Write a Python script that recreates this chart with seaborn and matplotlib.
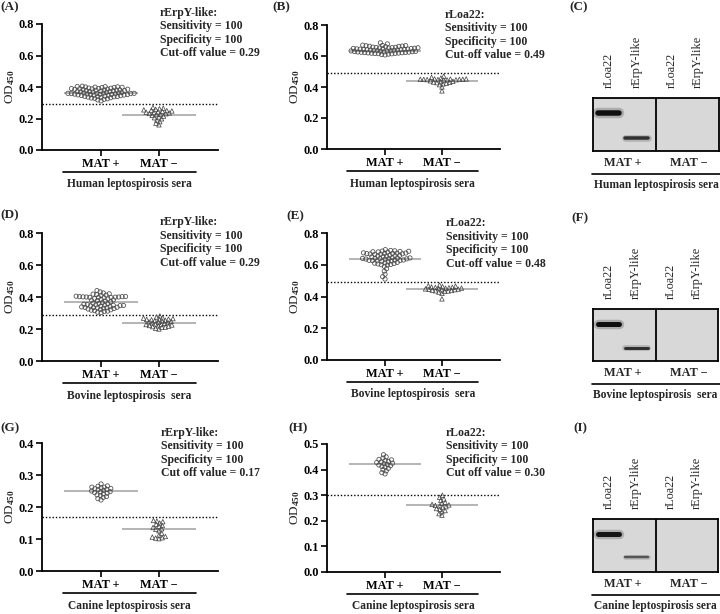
import numpy as np
import pandas as pd
import matplotlib
matplotlib.use("Agg")
import matplotlib.pyplot as plt
import seaborn as sns
from matplotlib.markers import MarkerStyle
from matplotlib.transforms import blended_transform_factory, Affine2D

# ---------------- data ----------------
groups = ["MAT +", "MAT \u2212"]

human_erpy_pos = [0.405, 0.402, 0.400, 0.398, 0.401, 0.396, 0.399, 0.403, 0.397,
                  0.392, 0.389, 0.391, 0.387, 0.388, 0.393, 0.385, 0.390, 0.386, 0.384,
                  0.381, 0.378, 0.379, 0.376, 0.380, 0.377, 0.375, 0.382,
                  0.372, 0.370, 0.368, 0.371, 0.366, 0.369, 0.365,
                  0.362, 0.360, 0.358, 0.361, 0.357, 0.359, 0.356, 0.363, 0.355, 0.354, 0.360, 0.358,
                  0.352, 0.350, 0.348, 0.351, 0.347, 0.349, 0.346, 0.345, 0.353,
                  0.342, 0.340, 0.338, 0.341, 0.336, 0.339,
                  0.332, 0.330, 0.328, 0.334, 0.322, 0.318, 0.325, 0.312]
human_erpy_neg = [0.270, 0.265, 0.262, 0.258, 0.255, 0.252, 0.250, 0.248, 0.245, 0.243,
                  0.240, 0.238, 0.235, 0.232, 0.230, 0.228, 0.225, 0.220, 0.215, 0.210,
                  0.205, 0.198, 0.190, 0.180, 0.170, 0.160]
human_erpy_means = [0.36, 0.225]

human_loa_pos = [0.685, 0.678,
                 0.670, 0.668, 0.666, 0.664, 0.662, 0.660, 0.667, 0.663,
                 0.656, 0.654, 0.652, 0.650, 0.648, 0.646, 0.655, 0.651, 0.649, 0.653, 0.647, 0.657,
                 0.644, 0.642, 0.640, 0.638, 0.636, 0.634, 0.643, 0.641, 0.639, 0.637, 0.635, 0.645,
                 0.632, 0.630, 0.628, 0.626, 0.624, 0.622, 0.631, 0.629, 0.627, 0.625, 0.623, 0.633,
                 0.620, 0.618, 0.616, 0.614, 0.621, 0.619, 0.617, 0.615,
                 0.612, 0.610, 0.607]
human_loa_neg = [0.470, 0.462, 0.458, 0.452, 0.450, 0.451, 0.449, 0.448, 0.450, 0.447,
                 0.452, 0.446, 0.449, 0.445, 0.448, 0.440, 0.437, 0.435, 0.432, 0.430,
                 0.428, 0.425, 0.420, 0.415, 0.400, 0.375]
human_loa_means = [0.635, 0.44]

bovine_erpy_pos = [0.440, 0.432, 0.425, 0.420, 0.418, 0.415, 0.412, 0.410,
                   0.405, 0.402, 0.400, 0.398, 0.401, 0.399, 0.403, 0.397, 0.400, 0.396, 0.402, 0.398,
                   0.390, 0.388, 0.385, 0.382, 0.380, 0.378, 0.375,
                   0.370, 0.365, 0.362, 0.360, 0.358, 0.355,
                   0.352, 0.350, 0.348, 0.345, 0.347, 0.343, 0.349, 0.346,
                   0.340, 0.338, 0.335, 0.333, 0.336, 0.332, 0.330, 0.334,
                   0.328, 0.325, 0.322, 0.320, 0.318, 0.315, 0.312, 0.310, 0.305, 0.302]
bovine_erpy_neg = [0.282, 0.275, 0.270, 0.268, 0.265, 0.262, 0.262, 0.260, 0.258, 0.255,
                   0.252, 0.250, 0.248, 0.245, 0.242, 0.240, 0.238, 0.235, 0.232, 0.230,
                   0.228, 0.225, 0.222, 0.220, 0.218, 0.215, 0.212, 0.210, 0.205, 0.200]
bovine_erpy_means = [0.37, 0.24]

bovine_loa_pos = [0.695, 0.690, 0.688, 0.685, 0.686, 0.682, 0.680, 0.684, 0.681,
                  0.675, 0.672, 0.670, 0.668, 0.673, 0.667, 0.671, 0.669, 0.665, 0.674,
                  0.660, 0.658, 0.655, 0.652, 0.657, 0.654, 0.650,
                  0.645, 0.642, 0.640, 0.638, 0.643, 0.636, 0.641, 0.639, 0.635, 0.637,
                  0.630, 0.628, 0.625, 0.627, 0.622, 0.629, 0.624, 0.626,
                  0.618, 0.615, 0.612, 0.610, 0.608, 0.605, 0.602, 0.600, 0.598,
                  0.590, 0.575, 0.560, 0.540, 0.525, 0.510]
bovine_loa_neg = [0.472, 0.468, 0.465, 0.462, 0.460, 0.458, 0.457, 0.455, 0.453, 0.452,
                  0.450, 0.448, 0.447, 0.445, 0.443, 0.442, 0.440, 0.438, 0.436, 0.435,
                  0.432, 0.428, 0.420, 0.385]
bovine_loa_means = [0.635, 0.45]

canine_erpy_pos = [0.272, 0.266, 0.265, 0.262, 0.262, 0.260, 0.258, 0.257, 0.255, 0.254,
                   0.252, 0.250, 0.248, 0.247, 0.245, 0.243, 0.241, 0.238, 0.236, 0.233,
                   0.230, 0.226, 0.222]
canine_erpy_neg = [0.158, 0.156, 0.154, 0.150, 0.146, 0.142, 0.140, 0.136, 0.132, 0.130,
                   0.126, 0.118, 0.112, 0.108, 0.106, 0.104, 0.103, 0.101]
canine_erpy_means = [0.25, 0.13]

canine_loa_pos = [0.458, 0.450, 0.445, 0.440, 0.438, 0.435, 0.432, 0.430, 0.428, 0.425,
                  0.423, 0.420, 0.418, 0.415, 0.412, 0.410, 0.405, 0.400, 0.395, 0.388, 0.383]
canine_loa_neg = [0.300, 0.292, 0.285, 0.280, 0.272, 0.268, 0.264, 0.262, 0.260, 0.258,
                  0.255, 0.252, 0.248, 0.245, 0.240, 0.235, 0.228, 0.222]
canine_loa_means = [0.42, 0.26]

cutoffs = {"A": 0.29, "B": 0.49, "D": 0.29, "E": 0.49, "G": 0.17, "H": 0.30}
cutoff_text = {"A": "Cut-off value = 0.29", "B": "Cut-off value = 0.49",
               "D": "Cut-off value = 0.29", "E": "Cut-off value = 0.48",
               "G": "Cut off value = 0.17", "H": "Cut off value = 0.30"}
sensitivity = 100
specificity = 100

lane_labels = ["rLoa22", "rErpY-like", "rLoa22", "rErpY-like"]
# bands: (lane index, vertical position in blot, thickness px, colour)
blot_C = [(0, 0.72, 5.5, "#101010"), (1, 0.25, 3.5, "#303030")]
blot_F = [(0, 0.71, 5.0, "#101010"), (1, 0.25, 3.0, "#303030")]
blot_I = [(0, 0.72, 5.0, "#151515"), (1, 0.28, 2.5, "#555555")]

# ---------------- style ----------------
sns.set_theme(style="ticks")
plt.rcParams["font.family"] = ["Liberation Serif", "DejaVu Serif"]
plt.rcParams["font.weight"] = "bold"
plt.rcParams["mathtext.fontset"] = "custom"
plt.rcParams["mathtext.rm"] = "Liberation Serif:bold"
plt.rcParams["mathtext.it"] = "Liberation Serif:bold"
plt.rcParams["mathtext.bf"] = "Liberation Serif:bold"

FW, FH = 720, 614
fig = plt.figure(figsize=(FW / 100, FH / 100), dpi=100)


def px_axes(l, r, t, b):
    return fig.add_axes([l / FW, 1 - b / FH, (r - l) / FW, (b - t) / FH])


POS = [0.0, 0.5]
LAYOUT_SIZE = 1.8      # marker size used for the swarm layout
DRAW_SCALE = 1.7       # drawn markers are a bit larger, so they overlap like the original


def marker_path(m, scale):
    ms = MarkerStyle(m)
    return ms.get_path().transformed(ms.get_transform() + Affine2D().scale(scale))


CIRC_PATH = marker_path("o", DRAW_SCALE)
TRI_PATH = marker_path("^", DRAW_SCALE * 1.05)


def scatter_panel(rect, pos_vals, neg_vals, means, key, ymax, step, group):
    ax = px_axes(*rect)
    h_px = rect[3] - rect[2]
    for i, vals in enumerate([pos_vals, neg_vals]):
        df = pd.DataFrame({"x": [POS[i]] * len(vals), "OD": vals})
        n0 = len(ax.collections)
        sns.swarmplot(data=df, x="x", y="OD", native_scale=True, orient="x",
                      size=LAYOUT_SIZE, color="#505050", ax=ax, warn_thresh=1.0)
        for coll in ax.collections[n0:]:
            coll.set_facecolor("none")
            coll.set_edgecolor("#4a4a4a")
            coll.set_linewidth(0.55)
            coll.set_paths([CIRC_PATH if i == 0 else TRI_PATH])
        ax.hlines(means[i], POS[i] - 0.32, POS[i] + 0.32, color="#a8a8a8", lw=1.2, zorder=1)
    ax.axhline(cutoffs[key], color="black", lw=1.0, ls=(0, (1, 1.4)), zorder=1)
    ax.set_xlim(-0.51, 1.01)
    ax.set_ylim(0, ymax)
    ticks = np.round(np.arange(0, ymax + 1e-9, step), 2)
    ax.set_yticks(ticks)
    ax.set_yticklabels([f"{t:.1f}" for t in ticks])
    ax.set_xticks(POS)
    ax.set_xticklabels(groups)
    ax.set_xlabel("")
    ax.set_ylabel("OD$_{450}$", fontsize=9.5, labelpad=1)
    sns.despine(ax=ax)
    for s in ["left", "bottom"]:
        ax.spines[s].set_linewidth(1.3)
        ax.spines[s].set_color("black")
    ax.tick_params(axis="both", direction="out", length=4, width=1.2, colors="black",
                   labelsize=8.8, pad=2)
    ax.grid(False)
    ax.set_facecolor("white")
    trans = blended_transform_factory(ax.transData, ax.transAxes)
    yl = -21.5 / h_px
    ax.plot([-0.33, 0.82], [yl, yl], transform=trans, clip_on=False, color="black", lw=1.2)
    ax.text(0.245, -34.5 / h_px, group, transform=trans, ha="center", va="center",
            fontsize=8.3, fontweight="bold")
    return ax


def blot_panel(rect, bands, group):
    ax = px_axes(*rect)
    h_px = rect[3] - rect[2]
    ax.set_xlim(0, 4)
    ax.set_ylim(0, 1)
    ax.set_facecolor("#d8d8d8")
    lane_x = [0.5, 1.38, 2.5, 3.33]
    for lane, y, thick, col in bands:
        x = lane_x[lane]
        half = 0.33 if lane == 0 else 0.37
        ax.plot([x - half, x + half], [y, y], color=col, lw=thick * 0.72 * 1.9, alpha=0.22,
                solid_capstyle="round")
        ax.plot([x - half, x + half], [y, y], color=col, lw=thick * 0.72,
                solid_capstyle="round")
    ax.axvline(2, color="black", lw=1.3)
    for s in ax.spines.values():
        s.set_visible(True)
        s.set_color("black")
        s.set_linewidth(1.3)
    ax.set_xticks([])
    ax.set_yticks([])
    ax.grid(False)
    trans = blended_transform_factory(ax.transData, ax.transAxes)
    for x, lab in zip(lane_x, lane_labels):
        ax.text(x, 1 + 10 / h_px, lab, transform=trans, rotation=90, ha="center", va="bottom",
                fontsize=8.8, fontweight="normal")
    for x, lab in zip([0.95, 3.05], groups):
        ax.text(x, -12 / h_px, lab, transform=trans, ha="center", va="center",
                fontsize=8.8, fontweight="bold")
    yl = -22.5 / h_px
    ax.plot([-0.03, 4.05], [yl, yl], transform=trans, clip_on=False, color="black", lw=1.2)
    ax.text(2.0, -34 / h_px, group, transform=trans, ha="center", va="center",
            fontsize=8.3, fontweight="bold")
    return ax


def fig_text(x, y, s, **kw):
    fig.text(x / FW, 1 - y / FH, s, **kw)


def annotation(x, y0, name, key):
    lines = [name, f"Sensitivity = {sensitivity}", f"Specificity = {specificity}", cutoff_text[key]]
    for i, line in enumerate(lines):
        fig_text(x, y0 + i * 13.5, line, ha="left", va="center", fontsize=8.5, fontweight="bold")


scatter_panel((42, 218, 24, 150), human_erpy_pos, human_erpy_neg, human_erpy_means, "A", 0.8, 0.2,
              "Human leptospirosis sera")
scatter_panel((327, 500, 25, 149), human_loa_pos, human_loa_neg, human_loa_means, "B", 0.8, 0.2,
              "Human leptospirosis sera")
scatter_panel((42, 218, 233, 361), bovine_erpy_pos, bovine_erpy_neg, bovine_erpy_means, "D", 0.8, 0.2,
              "Bovine leptospirosis  sera")
scatter_panel((327, 500, 233, 360), bovine_loa_pos, bovine_loa_neg, bovine_loa_means, "E", 0.8, 0.2,
              "Bovine leptospirosis  sera")
scatter_panel((42, 218, 443, 571), canine_erpy_pos, canine_erpy_neg, canine_erpy_means, "G", 0.4, 0.1,
              "Canine leptospirosis sera")
scatter_panel((327, 500, 444, 572), canine_loa_pos, canine_loa_neg, canine_loa_means, "H", 0.5, 0.1,
              "Canine leptospirosis sera")

blot_panel((593, 719, 98, 151), blot_C, "Human leptospirosis sera")
blot_panel((593, 718, 309, 361), blot_F, "Bovine leptospirosis  sera")
blot_panel((593, 718, 519, 572), blot_I, "Canine leptospirosis sera")

annotation(160, 13, "rErpY-like:", "A")
annotation(445, 15, "rLoa22:", "B")
annotation(160, 222, "rErpY-like:", "D")
annotation(446, 223, "rLoa22:", "E")
annotation(161, 433, "rErpY-like:", "G")
annotation(446, 433, "rLoa22:", "H")

for lab, x, y in [("(A)", 0, 7), ("(B)", 272, 7), ("(C)", 569, 7),
                  ("(D)", 0, 215), ("(E)", 286, 216), ("(F)", 571, 218),
                  ("(G)", 0, 428), ("(H)", 288, 428), ("(I)", 573, 428)]:
    fig_text(x, y, lab, ha="left", va="center", fontsize=9.5, fontweight="bold")

fig.savefig("out.png", dpi=100)
